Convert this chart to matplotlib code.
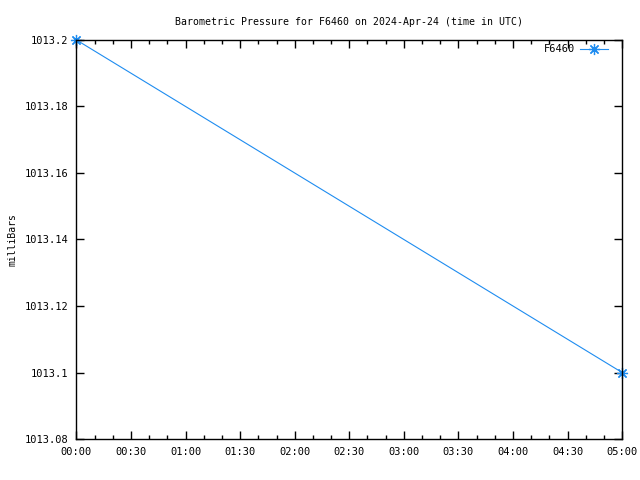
import datetime as dt
import matplotlib
matplotlib.use("Agg")
import matplotlib.pyplot as plt
import matplotlib.dates as mdates

# readings for station F6460
times = ["2024-04-24 00:00", "2024-04-24 05:00"]
pressure = [1013.2, 1013.1]
y_ticks = [1013.08, 1013.1, 1013.12, 1013.14, 1013.16, 1013.18, 1013.2]
y_labels = ["1013.08", "1013.1", "1013.12", "1013.14", "1013.16", "1013.18", "1013.2"]

t = [dt.datetime.strptime(s, "%Y-%m-%d %H:%M") for s in times]

plt.rcParams['font.family'] = ['DejaVu Sans Mono']
plt.rcParams['font.size'] = 7.5

fig = plt.figure(figsize=(6.4, 4.8), dpi=100)
ax = fig.add_axes([0.1195, 0.0854, 0.8525, 0.8313])

ax.plot(t, pressure, color="#1e8cf0", lw=0.8, marker=(8, 2, 0),
        markersize=8, markeredgewidth=0.9, label="F6460", clip_on=False)

ax.set_xlim(t[0], t[-1])
ax.set_ylim(y_ticks[0], y_ticks[-1])
ax.set_yticks(y_ticks)
ax.set_yticklabels(y_labels)

ax.xaxis.set_major_locator(mdates.MinuteLocator(byminute=[0, 30]))
ax.xaxis.set_minor_locator(mdates.MinuteLocator(byminute=[10, 20, 40, 50]))
ax.xaxis.set_major_formatter(mdates.DateFormatter("%H:%M"))

ax.tick_params(which="both", direction="in", top=True, right=True, pad=6, width=1)
ax.tick_params(which="major", length=6)
ax.tick_params(which="minor", length=3)
for s in ax.spines.values():
    s.set_linewidth(1)

ax.set_ylabel("milliBars", fontsize=7, labelpad=5)
ax.set_title("Barometric Pressure for F6460 on 2024-Apr-24 (time in UTC)",
             fontsize=7.1, pad=11)

leg = ax.legend(loc="upper right", frameon=False, markerfirst=False,
                handlelength=2.7, handletextpad=0.4, borderaxespad=0.3,
                bbox_to_anchor=(0.987, 1.0075))

fig.savefig("out.png", dpi=100)
